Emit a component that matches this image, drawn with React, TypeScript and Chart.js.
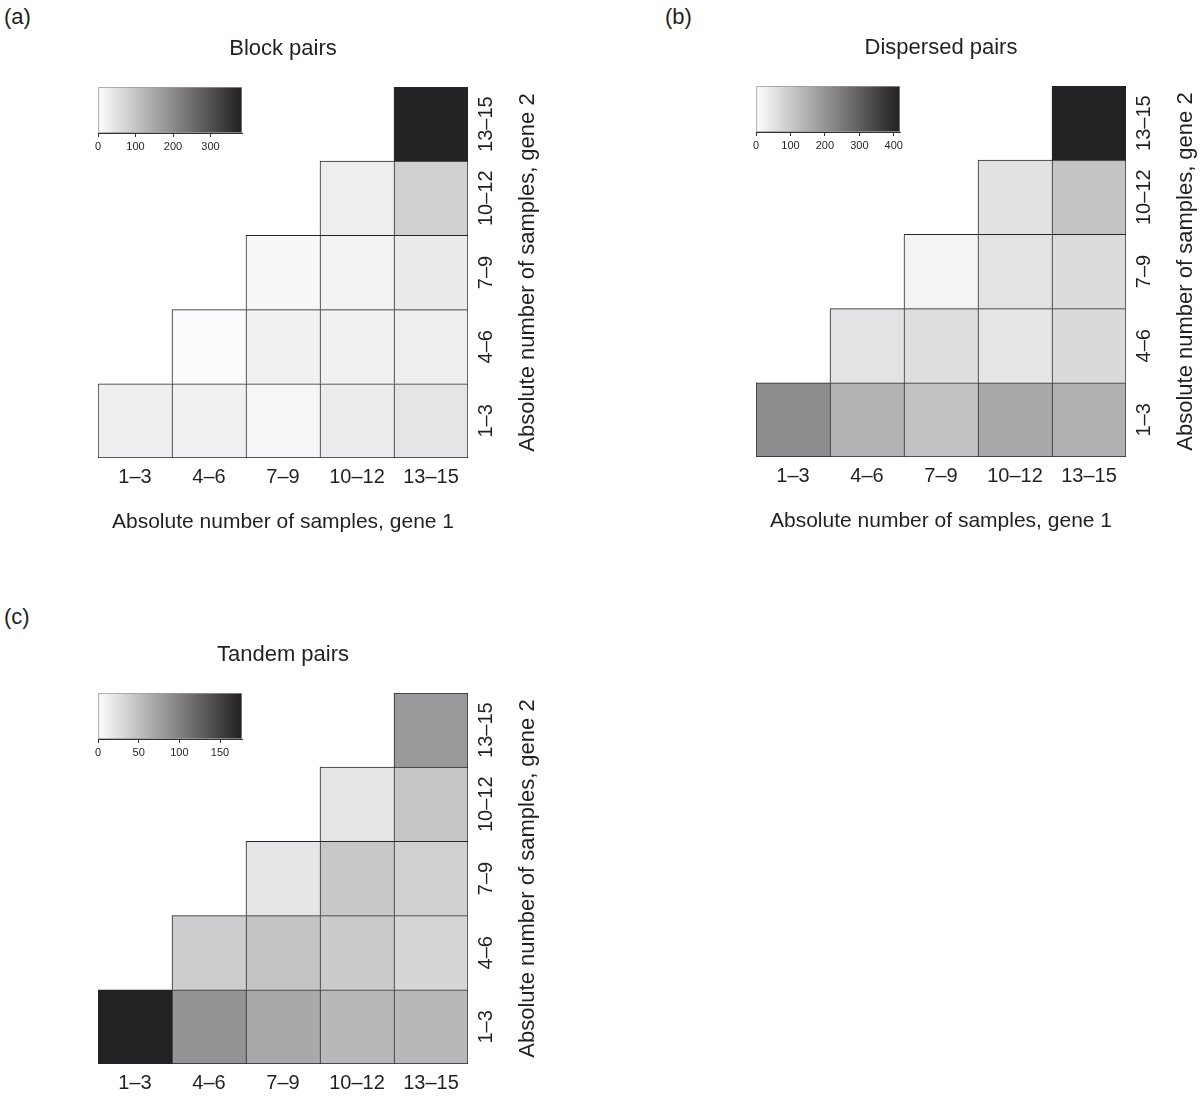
import React, { useEffect, useRef } from 'react';
import { Chart, registerables } from 'chart.js';

Chart.register(...registerables);

// ---------- data ----------
const BINS = ['1–3', '4–6', '7–9', '10–12', '13–15'];
const ROW_POS = [1, 2, 3, 4, 5];

// rows: gene 2 bin (bottom 1–3 … top 13–15); columns: gene 1 bin
const BLOCK_PAIRS: (number | null)[][] = [
  [28, 26, 16, 33, 45],
  [null, 5, 24, 24, 30],
  [null, null, 12, 21, 35],
  [null, null, null, 28, 82],
  [null, null, null, null, 384],
];
const BLOCK_MAX = 384;
const BLOCK_STEP = 100;

const DISPERSED_PAIRS: (number | null)[][] = [
  [217, 146, 115, 163, 149],
  [null, 53, 62, 47, 70],
  [null, null, 21, 53, 66],
  [null, null, null, 55, 112],
  [null, null, null, null, 418],
];
const DISPERSED_MAX = 418;
const DISPERSED_STEP = 100;

const TANDEM_PAIRS: (number | null)[][] = [
  [177, 86, 69, 57, 57],
  [null, 40, 48, 42, 33],
  [null, null, 20, 44, 38],
  [null, null, null, 21, 46],
  [null, null, null, null, 81],
];
const TANDEM_MAX = 177;
const TANDEM_STEP = 50;

const X_TITLE = 'Absolute number of samples, gene 1';
const Y_TITLE = 'Absolute number of samples, gene 2';

// ---------- style ----------
const FONT = "'Liberation Sans', Arial, Helvetica, sans-serif";
const TEXT = '#231f20';

function grayFor(v: number, max: number): string {
  const t = Math.max(0, Math.min(1, v / max));
  const g = Math.round(255 - 221 * t);
  const c = (n: number) => Math.max(0, Math.min(255, n));
  return `rgb(${c(g - 1)},${c(g)},${c(g + 2)})`;
}

const yTitlePlugin = {
  id: 'yTitle',
  afterDraw(chart: any, _args: any, opts: any) {
    const { ctx, chartArea } = chart;
    ctx.save();
    ctx.translate(chartArea.right + opts.offset, (chartArea.top + chartArea.bottom) / 2);
    ctx.rotate(-Math.PI / 2);
    ctx.font = `${opts.size}px ${FONT}`;
    ctx.fillStyle = TEXT;
    ctx.textAlign = 'center';
    ctx.textBaseline = 'middle';
    ctx.fillText(opts.text, 0, 0);
    ctx.restore();
  },
};

type PanelProps = {
  label: string;
  title: string;
  data: (number | null)[][];
  max: number;
  step: number;
  left: number;
  top: number;
  showXTitle: boolean;
  labelLeft: number;
  labelTop: number;
};

function HeatPanel(p: PanelProps) {
  const mainRef = useRef<HTMLCanvasElement>(null);
  const cbRef = useRef<HTMLCanvasElement>(null);

  useEffect(() => {
    const main = new Chart(mainRef.current!, {
      type: 'bar',
      data: {
        labels: BINS,
        datasets: p.data.map((row, j) => ({
          label: BINS[j],
          data: row.map((v) => (v == null ? null : [ROW_POS[j] - 0.5, ROW_POS[j] + 0.5])) as any,
          backgroundColor: row.map((v) => (v == null ? 'rgba(0,0,0,0)' : grayFor(v, p.max))),
          borderColor: '#262626',
          borderWidth: ((c: any) => ({
            top: 1,
            left: 1,
            right: c.dataIndex === 4 ? 1 : 0,
            bottom: j === 0 ? 1 : 0,
          })) as any,
          borderSkipped: false,
          barPercentage: 1,
          categoryPercentage: 1,
          grouped: false,
        })),
      },
      options: {
        animation: false,
        responsive: false,
        events: [],
        layout: { padding: { left: 98, right: 92, top: 0, bottom: 22 } },
        plugins: {
          legend: { display: false },
          tooltip: { enabled: false },
          title: {
            display: true,
            text: p.title,
            font: { family: FONT, size: 22, weight: 'normal' },
            color: TEXT,
            padding: { top: 36, bottom: 24.6 },
            fullSize: false,
          },
          yTitle: { text: Y_TITLE, offset: 60, size: 22 },
        } as any,
        scales: {
          x: {
            type: 'category',
            offset: true,
            grid: { display: false },
            border: { display: false },
            ticks: {
              font: { family: FONT, size: 20 },
              color: TEXT,
              padding: -1,
              maxRotation: 0,
              autoSkip: false,
            },
            title: {
              display: p.showXTitle,
              text: X_TITLE,
              font: { family: FONT, size: 21 },
              color: TEXT,
              padding: { top: 0, bottom: 3 },
            },
            afterFit: (s: any) => {
              s.height = 80;
            },
          },
          y: {
            type: 'linear',
            position: 'right',
            min: 0.5,
            max: 5.5,
            grid: { display: false },
            border: { display: false },
            afterBuildTicks: (s: any) => {
              s.ticks = ROW_POS.map((v) => ({ value: v }));
            },
            ticks: {
              callback: (_v: any, i: number) => BINS[i],
              minRotation: 90,
              maxRotation: 90,
              crossAlign: 'center',
              padding: -17,
              font: { family: FONT, size: 20 },
              color: TEXT,
            },
            afterFit: (s: any) => {
              s.width = 40;
            },
          },
        },
      },
      plugins: [yTitlePlugin as any],
    });

    const cb = new Chart(cbRef.current!, {
      type: 'bar',
      data: {
        labels: ['scale'],
        datasets: [
          {
            data: [[0, p.max]] as any,
            backgroundColor: (c: any) => {
              const area = c.chart.chartArea;
              if (!area) return '#ffffff';
              const g = c.chart.ctx.createLinearGradient(area.left, 0, area.right, 0);
              g.addColorStop(0, '#ffffff');
              g.addColorStop(1, '#221f20');
              return g;
            },
            borderColor: '#9a9a9a',
            borderWidth: 1,
            borderSkipped: false,
            barPercentage: 1,
            categoryPercentage: 1,
          },
        ],
      },
      options: {
        indexAxis: 'y',
        animation: false,
        responsive: false,
        events: [],
        layout: { padding: { left: 10, right: 21, top: 10, bottom: 7 } },
        plugins: { legend: { display: false }, tooltip: { enabled: false } },
        scales: {
          x: {
            type: 'linear',
            min: 0,
            max: p.max,
            ticks: {
              stepSize: p.step,
              includeBounds: false,
              font: { family: FONT, size: 11 },
              color: TEXT,
              padding: 3,
              maxRotation: 0,
            },
            grid: { drawOnChartArea: false, drawTicks: true, tickLength: 4, color: '#333' },
            border: { display: true, color: '#333', width: 1 },
            afterFit: (s: any) => {
              s.height = 22;
            },
          },
          y: { display: false, offset: true },
        },
      },
    });

    return () => {
      main.destroy();
      cb.destroy();
    };
  }, []);

  return (
    <>
      <div
        style={{
          position: 'absolute',
          left: p.labelLeft,
          top: p.labelTop,
          fontFamily: FONT,
          fontSize: 22,
          lineHeight: '26px',
          color: TEXT,
        }}
      >
        {p.label}
      </div>
      <canvas
        ref={mainRef}
        width={600}
        height={560}
        style={{ position: 'absolute', left: p.left, top: p.top, display: 'block' }}
      />
      <canvas
        ref={cbRef}
        width={175}
        height={85}
        style={{ position: 'absolute', left: p.left + 88, top: p.top + 77, display: 'block' }}
      />
    </>
  );
}

export default function App() {
  return (
    <div
      style={{
        position: 'absolute',
        left: 0,
        top: 0,
        width: 1200,
        height: 1101,
        overflow: 'hidden',
        background: '#ffffff',
      }}
    >
      <HeatPanel
        label="(a)"
        title="Block pairs"
        data={BLOCK_PAIRS}
        max={BLOCK_MAX}
        step={BLOCK_STEP}
        left={0}
        top={0}
        showXTitle={true}
        labelLeft={4}
        labelTop={4}
      />
      <HeatPanel
        label="(b)"
        title="Dispersed pairs"
        data={DISPERSED_PAIRS}
        max={DISPERSED_MAX}
        step={DISPERSED_STEP}
        left={658}
        top={-1}
        showXTitle={true}
        labelLeft={665}
        labelTop={4}
      />
      <HeatPanel
        label="(c)"
        title="Tandem pairs"
        data={TANDEM_PAIRS}
        max={TANDEM_MAX}
        step={TANDEM_STEP}
        left={0}
        top={606}
        showXTitle={false}
        labelLeft={4}
        labelTop={604}
      />
    </div>
  );
}
